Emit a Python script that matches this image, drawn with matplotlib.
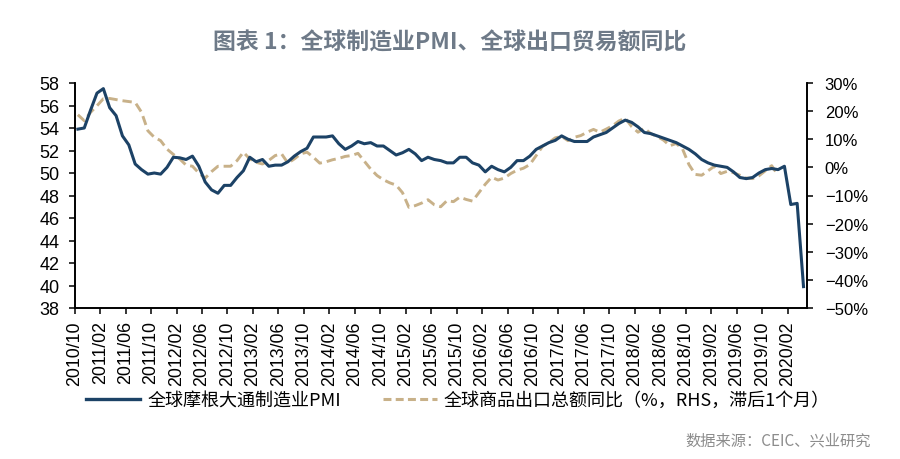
import matplotlib
matplotlib.use("Agg")
import matplotlib.pyplot as plt
from matplotlib.ticker import FixedLocator
from matplotlib.lines import Line2D

# ---------------- data ----------------
pmi = [53.9, 54.0, 55.6, 57.1, 57.5, 55.8, 55.1, 53.3, 52.5, 50.8,
       50.3, 49.9, 50.0, 49.9, 50.5, 51.4, 51.35, 51.2, 51.5, 50.6,
       49.2, 48.5, 48.2, 48.9, 48.9, 49.6, 50.2, 51.4, 51.0, 51.2,
       50.6, 50.7, 50.7, 51.0, 51.5, 51.9, 52.2, 53.2, 53.2, 53.2,
       53.3, 52.6, 52.1, 52.4, 52.8, 52.6, 52.7, 52.4, 52.4, 52.0,
       51.6, 51.8, 52.1, 51.7, 51.1, 51.4, 51.2, 51.1, 50.9, 50.9,
       51.4, 51.4, 50.9, 50.7, 50.1, 50.6, 50.3, 50.1, 50.5, 51.1,
       51.1, 51.5, 52.1, 52.4, 52.7, 52.9, 53.3, 53.0, 52.8, 52.8,
       52.8, 53.2, 53.4, 53.6, 54.0, 54.4, 54.7, 54.5, 54.1, 53.6,
       53.5, 53.3, 53.1, 52.9, 52.7, 52.4, 52.1, 51.7, 51.2, 50.9,
       50.7, 50.6, 50.5, 50.1, 49.6, 49.5, 49.6, 50.0, 50.3, 50.4,
       50.3, 50.6, 47.2, 47.3, 39.9]
exports = [18.7, 16.6, 19.6, 21.9, 24.4, 24.5, 24.1, 23.7, 23.4, 23.1,
           19.6, 13.0, 10.7, 9.5, 6.5, 4.6, 3.0, 0.8, 0.4, -2.0,
           -3.8, -1.5, 0.4, 0.4, 0.4, 2.4, 5.4, 3.0, 1.8, 1.2,
           2.5, 4.2, 4.8, 1.5, 3.0, 4.8, 5.4, 3.6, 1.5, 2.0,
           2.7, 3.2, 3.9, 4.2, 5.0, 2.2, -0.6, -2.9, -4.4, -5.5,
           -6.3, -9.0, -14.2, -13.6, -12.7, -11.5, -13.3, -14.0, -11.8, -12.2,
           -10.6, -11.4, -12.0, -9.0, -6.0, -3.5, -4.5, -3.8, -2.2, -1.0,
           -0.3, 1.0, 4.2, 7.5, 8.8, 10.5, 11.0, 9.5, 10.7, 11.3,
           12.5, 13.5, 12.5, 13.6, 14.8, 16.5, 17.5, 14.5, 12.5, 13.9,
           12.0, 11.0, 9.7, 7.7, 8.5, 6.5, 1.0, -2.5, -2.8, -1.2,
           0.4, -2.2, -1.4, -1.9, -2.8, -3.8, -4.0, -3.0, -1.2, 0.6,
           -2.8]
left_ticks = [38, 40, 42, 44, 46, 48, 50, 52, 54, 56, 58]
right_ticks = [-50, -40, -30, -20, -10, 0, 10, 20, 30]
tick_labels = ["2010/10", "2011/02", "2011/06", "2011/10", "2012/02", "2012/06",
               "2012/10", "2013/02", "2013/06", "2013/10", "2014/02", "2014/06",
               "2014/10", "2015/02", "2015/06", "2015/10", "2016/02", "2016/06",
               "2016/10", "2017/02", "2017/06", "2017/10", "2018/02", "2018/06",
               "2018/10", "2019/02", "2019/06", "2019/10", "2020/02"]
title = "图表 1：全球制造业PMI、全球出口贸易额同比"
pmi_label = "全球摩根大通制造业PMI"
exp_label = "全球商品出口总额同比（%，RHS，滞后1个月）"
source = "数据来源：CEIC、兴业研究"

# ---------------- style ----------------
cjk = ["Noto Sans CJK SC", "DejaVu Sans"]
num_font = ["Liberation Sans", "DejaVu Sans"]
pmi_color = "#1c4266"
exp_color = "#c8b189"

fig = plt.figure(figsize=(9, 4.6), dpi=100)
ax = fig.add_axes([74.7 / 900, 1 - 309 / 460, (806.7 - 74.7) / 900, (309 - 84) / 460])
ax2 = ax.twinx()

n_cat = len(pmi)
x_pmi = [i + 0.5 for i in range(len(pmi))]
x_exp = [i + 0.5 for i in range(len(exports))]

ax.plot(x_pmi, pmi, color=pmi_color, lw=2.2, solid_joinstyle="round", zorder=3)
ax2.plot(x_exp, exports, color=exp_color, lw=2.1, dashes=(3.2, 1.7), zorder=2)
ax.set_zorder(ax2.get_zorder() + 1)
ax.patch.set_visible(False)

ax.set_xlim(0, n_cat)
ax.set_ylim(38, 58)
ax2.set_ylim(-50, 30)

tick_pos = [4 * i for i in range(len(tick_labels))]
ax.set_xticks(tick_pos)
ax.set_xticklabels(tick_labels, rotation=90, fontsize=12.8, family=num_font)
ax.yaxis.set_major_locator(FixedLocator(left_ticks))
ax.set_yticklabels([str(v) for v in left_ticks], fontsize=13, family=num_font)
ax2.yaxis.set_major_locator(FixedLocator(right_ticks))
ax2.set_yticklabels([(str(v) if v >= 0 else "\u2212" + str(-v)) + "%" for v in right_ticks],
                    fontsize=12, family=num_font)

for a in (ax, ax2):
    a.spines["top"].set_visible(False)
    for s in a.spines.values():
        s.set_linewidth(1.2)
        s.set_color("black")
ax.tick_params(axis="x", direction="out", length=4, width=1.1, pad=5)
ax.tick_params(axis="y", direction="out", length=4, width=1.1, pad=7)
ax2.tick_params(axis="y", direction="out", length=4, width=1.1, pad=9)

fig.text(0.5, 1 - 43 / 460, title, ha="center", va="center", fontsize=16.5,
         color="#6e7a88", family=cjk, fontweight="bold")

handles = [Line2D([], [], color=pmi_color, lw=2.4),
           Line2D([], [], color=exp_color, lw=2.2, dashes=(2.6, 1.4))]
fig.legend(handles, [pmi_label, exp_label], loc="center left",
           bbox_to_anchor=(86 / 900, 1 - 401 / 460), ncol=2, frameon=False,
           prop={"family": cjk, "size": 13}, handlelength=3.0,
           handletextpad=0.4, columnspacing=2.3, borderpad=0, borderaxespad=0)

fig.text(871 / 900, 1 - 441 / 460, source, ha="right", va="center", fontsize=11,
         color="#8c8c8c", family=cjk)

fig.savefig("out.png", dpi=100, facecolor="white")
